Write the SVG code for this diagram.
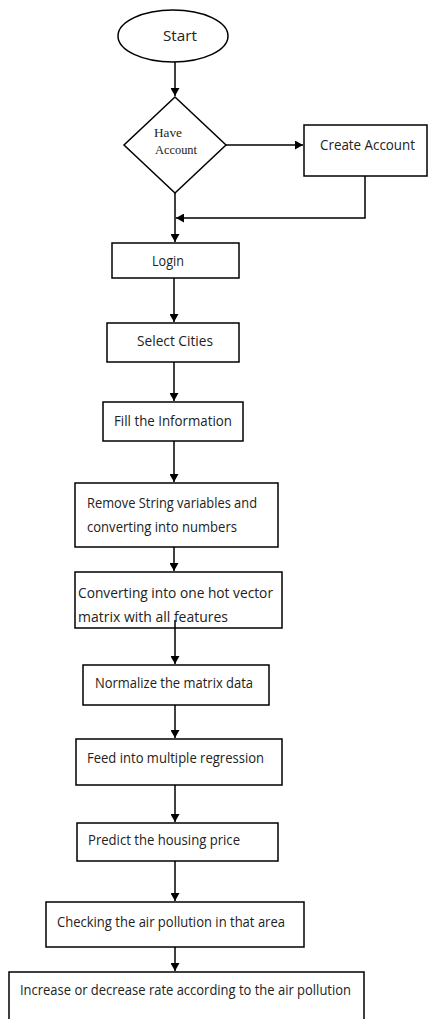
<svg xmlns="http://www.w3.org/2000/svg" width="428" height="1019" viewBox="0 0 428 1019">
<style>
.box{fill:#fff;stroke:#000;stroke-width:1.5}
.t{font-family:"Open Sans","Liberation Sans",sans-serif;font-size:14.5px;fill:#222}
.s{font-family:"Liberation Serif",serif;font-size:12.5px;fill:#222}
.c{fill:none;stroke:#000;stroke-width:1.5}
</style>
<defs>
<marker id="ah" markerUnits="userSpaceOnUse" markerWidth="8" markerHeight="9" refX="8" refY="4.5" orient="auto">
<path d="M0,0 L8,4.5 L0,9 z" fill="#000"/>
</marker>
</defs>
<rect width="428" height="1019" fill="#fff"/>
<g id="connectors">
<path class="c" d="M175,62 V96" marker-end="url(#ah)"/>
<path class="c" d="M226,145 H303" marker-end="url(#ah)"/>
<path class="c" d="M365,176 V218 H176" marker-end="url(#ah)"/>
<path class="c" d="M175,193 V242" marker-end="url(#ah)"/>
<path class="c" d="M174,278 V322" marker-end="url(#ah)"/>
<path class="c" d="M174,362 V401" marker-end="url(#ah)"/>
<path class="c" d="M174,441 V482" marker-end="url(#ah)"/>
<path class="c" d="M174,547 V571" marker-end="url(#ah)"/>
<path class="c" d="M175,705 V738" marker-end="url(#ah)"/>
<path class="c" d="M175,785 V822" marker-end="url(#ah)"/>
<path class="c" d="M175,861 V901" marker-end="url(#ah)"/>
<path class="c" d="M175,947 V971" marker-end="url(#ah)"/>
</g>
<g id="start">
<ellipse class="box" cx="173" cy="36" rx="55" ry="26"/>
<text class="t" x="180" y="41" text-anchor="middle" textLength="34" lengthAdjust="spacingAndGlyphs">Start</text>
</g>
<g id="have-account">
<polygon class="box" points="175,97 226,145 175,193 124,145"/>
<text class="s" x="154" y="137" textLength="28" lengthAdjust="spacingAndGlyphs">Have</text>
<text class="s" x="155" y="154" textLength="42" lengthAdjust="spacingAndGlyphs">Account</text>
</g>
<g id="create-account">
<rect class="box" x="304" y="125" width="123" height="51"/>
<text class="t" x="320" y="150" textLength="95" lengthAdjust="spacingAndGlyphs">Create Account</text>
</g>
<g id="login">
<rect class="box" x="112" y="243" width="127" height="35"/>
<text class="t" x="152" y="266" textLength="32" lengthAdjust="spacingAndGlyphs">Login</text>
</g>
<g id="select-cities">
<rect class="box" x="107" y="323" width="132" height="39"/>
<text class="t" x="137" y="346" textLength="76" lengthAdjust="spacingAndGlyphs">Select Cities</text>
</g>
<g id="fill-info">
<rect class="box" x="103" y="402" width="140" height="39"/>
<text class="t" x="114" y="426" textLength="118" lengthAdjust="spacingAndGlyphs">Fill the Information</text>
</g>
<g id="remove-strings">
<rect class="box" x="75" y="483" width="203" height="64"/>
<text class="t" x="87" y="508" textLength="170" lengthAdjust="spacingAndGlyphs">Remove String variables and</text>
<text class="t" x="87" y="532" textLength="150" lengthAdjust="spacingAndGlyphs">converting into numbers</text>
</g>
<g id="one-hot">
<rect class="box" x="75" y="572" width="207" height="56"/>
<text class="t" x="78" y="598" textLength="195" lengthAdjust="spacingAndGlyphs">Converting into one hot vector</text>
<text class="t" x="78" y="622" textLength="150" lengthAdjust="spacingAndGlyphs">matrix with all features</text>
</g>
<g id="connector-onehot-normalize">
<path class="c" d="M175,620 V664" marker-end="url(#ah)"/>
</g>
<g id="normalize">
<rect class="box" x="83" y="665" width="186" height="40"/>
<text class="t" x="95" y="688" textLength="158" lengthAdjust="spacingAndGlyphs">Normalize the matrix data</text>
</g>
<g id="feed">
<rect class="box" x="76" y="739" width="206" height="46"/>
<text class="t" x="87" y="763" textLength="177" lengthAdjust="spacingAndGlyphs">Feed into multiple regression</text>
</g>
<g id="predict">
<rect class="box" x="77" y="823" width="201" height="38"/>
<text class="t" x="88" y="845" textLength="152" lengthAdjust="spacingAndGlyphs">Predict the housing price</text>
</g>
<g id="checking">
<rect class="box" x="46" y="902" width="258" height="45"/>
<text class="t" x="57" y="927" textLength="228" lengthAdjust="spacingAndGlyphs">Checking the air pollution in that area</text>
</g>
<g id="increase">
<rect class="box" x="9" y="972" width="355" height="60"/>
<text class="t" x="20" y="995" textLength="331" lengthAdjust="spacingAndGlyphs">Increase or decrease rate according to the air pollution</text>
</g>
</svg>
